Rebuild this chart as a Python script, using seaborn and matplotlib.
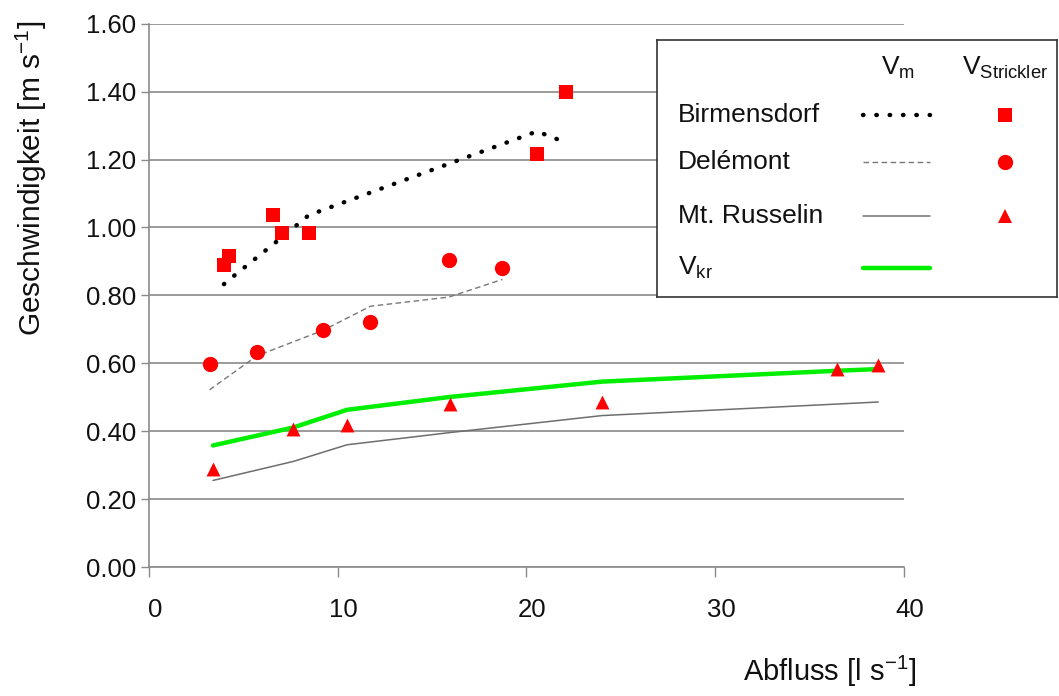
import matplotlib
matplotlib.use("Agg")
import matplotlib.pyplot as plt
import matplotlib.transforms as mtransforms
import numpy as np
import pandas as pd
import seaborn as sns

# Discharge [l/s] and velocities [m/s] per site
birm_q = [3.97, 4.22, 6.57, 7.05, 8.46, 20.56, 22.09]
birm_vstrickler = [0.889, 0.915, 1.038, 0.985, 0.985, 1.215, 1.400]
birm_vm = [0.833, 0.845, 0.950, 0.971, 1.036, 1.283, 1.250]

dele_q = [3.21, 5.72, 9.22, 11.73, 15.89, 18.72]
dele_vstrickler = [0.597, 0.633, 0.697, 0.722, 0.905, 0.880]
dele_vm = [0.522, 0.622, 0.697, 0.768, 0.795, 0.847]

russ_q = [3.39, 7.65, 10.49, 15.95, 24.0, 36.47, 38.64]
russ_vstrickler = [0.289, 0.407, 0.417, 0.481, 0.486, 0.582, 0.595]
russ_vm = [0.255, 0.311, 0.360, 0.396, 0.446, 0.480, 0.486]
russ_vkr = [0.358, 0.411, 0.463, 0.501, 0.546, 0.578, 0.583]

y_ticks = [0.0, 0.2, 0.4, 0.6, 0.8, 1.0, 1.2, 1.4, 1.6]
x_ticks = [0, 10, 20, 30, 40]

birm = pd.DataFrame({"q": birm_q, "vs": birm_vstrickler, "vm": birm_vm})
dele = pd.DataFrame({"q": dele_q, "vs": dele_vstrickler, "vm": dele_vm})
russ = pd.DataFrame({"q": russ_q, "vs": russ_vstrickler, "vm": russ_vm, "vkr": russ_vkr})

sns.set_theme(style="white")
plt.rcParams["font.family"] = ["Liberation Sans", "DejaVu Sans"]
plt.rcParams["mathtext.fontset"] = "custom"
plt.rcParams["mathtext.rm"] = "Liberation Sans"
plt.rcParams["mathtext.it"] = "Liberation Sans"
plt.rcParams["mathtext.bf"] = "Liberation Sans:bold"

GRID = "#8a8a8a"
RED = "#ff0000"
GREEN = "#00ee00"
TXT = "#111111"

fig = plt.figure(figsize=(10.59, 6.96), dpi=100)
ax = fig.add_axes([0.1407, 0.1853, 0.7129, 0.7806])

# mean velocity lines
sns.lineplot(data=birm, x="q", y="vm", ax=ax, color="black", lw=3.2,
             linestyle=(0, (0.1, 2.9)), dash_capstyle="round",
             sort=False, estimator=None, zorder=3)
sns.lineplot(data=dele, x="q", y="vm", ax=ax, color="#777777", lw=1.0,
             linestyle=(0, (4, 2.5)), sort=False, estimator=None, zorder=3)
sns.lineplot(data=russ, x="q", y="vm", ax=ax, color="#6e6e6e", lw=1.1,
             sort=False, estimator=None, zorder=3)
sns.lineplot(data=russ, x="q", y="vkr", ax=ax, color=GREEN, lw=3.2,
             sort=False, estimator=None, zorder=3)

# Strickler velocities
sns.scatterplot(data=birm, x="q", y="vs", ax=ax, marker="s", s=100,
                color=RED, linewidth=0, zorder=4)
sns.scatterplot(data=dele, x="q", y="vs", ax=ax, marker="o", s=121,
                color=RED, linewidth=0, zorder=4)
sns.scatterplot(data=russ, x="q", y="vs", ax=ax, marker="^", s=100,
                color=RED, linewidth=0, zorder=4)

ax.set_xlim(0, 40)
ax.set_ylim(0, 1.6)
ax.set_xticks(x_ticks)
ax.set_yticks(y_ticks)
ax.set_yticklabels([f"{v:.2f}" for v in y_ticks])
ax.set_xlabel("")
ax.set_ylabel("")
ax.yaxis.grid(True, color=GRID, lw=1.2)
ax.xaxis.grid(False)
ax.set_axisbelow(True)
for side in ("top", "right"):
    ax.spines[side].set_visible(False)
for side in ("left", "bottom"):
    ax.spines[side].set_color(GRID)
    ax.spines[side].set_linewidth(1.2)
ax.tick_params(axis="y", direction="out", length=6, width=1, color=GRID,
               labelsize=18.5, pad=3, left=True, labelcolor=TXT)
ax.tick_params(axis="x", direction="out", length=7, width=1, color=GRID,
               labelsize=18.5, pad=15, bottom=True, labelcolor=TXT)
# x tick labels sit slightly right of their ticks
shift = mtransforms.ScaledTranslation(6 / 100, 0, fig.dpi_scale_trans)
for lbl in ax.get_xticklabels():
    lbl.set_transform(lbl.get_transform() + shift)

fig.text(0.030, 0.7435, r"Geschwindigkeit [m s$^{\mathrm{-1}}$]", rotation=90,
         ha="center", va="center", fontsize=21.5, color=TXT)
fig.text(0.865, 0.035, r"Abfluss [l s$^{\mathrm{-1}}$]",
         ha="right", va="center", fontsize=21, color=TXT)

# key box with two symbol columns
lax = fig.add_axes([657 / 1059, 1 - 297 / 696, 400 / 1059, 257 / 696], zorder=5)
lax.set_xlim(657, 1057)
lax.set_ylim(297, 40)
lax.set_xticks([])
lax.set_yticks([])
lax.set_facecolor("white")
for sp in lax.spines.values():
    sp.set_visible(True)
    sp.set_color("#333333")
    sp.set_linewidth(1.2)

fs = 19
lax.text(898, 68, r"V$_{\mathrm{m}}$", ha="center", va="center", fontsize=fs, color=TXT)
lax.text(1005, 68, r"V$_{\mathrm{Strickler}}$", ha="center", va="center", fontsize=fs, color=TXT)

rows = [
    ("Birmensdorf", 115, dict(color="black", lw=3.2, linestyle=(0, (0.1, 2.9)),
                              dash_capstyle="round"), "s", 10),
    ("Delémont", 162, dict(color="#777777", lw=1.0, linestyle=(0, (4, 2.5))), "o", 11),
    ("Mt. Russelin", 216, dict(color="#6e6e6e", lw=1.1), "^", 10),
    (r"V$_{\mathrm{kr}}$", 268, dict(color=GREEN, lw=3.2), None, 0),
]
for label, yy, style, mk, ms in rows:
    lax.text(678, yy, label, ha="left", va="center", fontsize=fs, color=TXT)
    lax.plot([863, 930], [yy, yy], **style)
    if mk:
        lax.plot([1005], [yy], marker=mk, markersize=ms, color=RED, linestyle="none",
                 markeredgewidth=0)

fig.savefig("out.png", dpi=100, facecolor="white")
